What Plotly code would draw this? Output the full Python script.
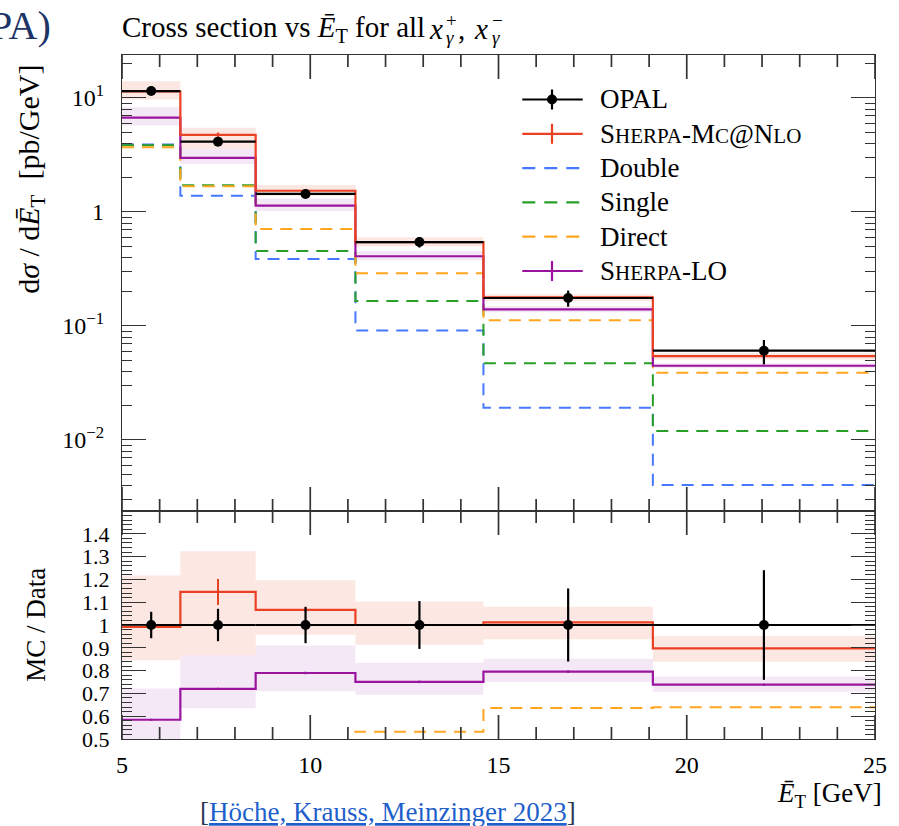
import numpy as np
import plotly.graph_objects as go

# ---- binned cross sections dσ/dĒT [pb/GeV] ----
edges = [5.0, 6.55, 8.55, 11.2, 14.6, 19.1, 25.0]

opal = [11.5, 4.14, 1.44, 0.545, 0.176, 0.0607]
opal_err = [0.667, 0.294, 0.115, 0.0572, 0.0282, 0.0146]

mcatnlo = [11.4, 4.74, 1.535, 0.545, 0.178, 0.0545]
mcatnlo_err = [0.09, 0.236, 0.012, 0.005, 0.0015, 0.0004]
mcatnlo_lo = [9.72, 3.59, 1.378, 0.498, 0.165, 0.0509]
mcatnlo_hi = [14.0, 5.48, 1.722, 0.601, 0.190, 0.0578]

sherpa_lo = [6.72, 2.98, 1.137, 0.409, 0.140, 0.0448]
sherpa_lo_err = [0.05, 0.02, 0.008, 0.003, 0.001, 0.0003]
sherpa_lo_lo = [5.75, 2.63, 1.022, 0.378, 0.132, 0.0429]
sherpa_lo_hi = [8.30, 3.59, 1.31, 0.455, 0.150, 0.0470]

double = [3.90, 1.39, 0.386, 0.0915, 0.0192, 0.00403]
single = [3.85, 1.72, 0.455, 0.166, 0.0470, 0.0120]
direct = [3.70, 1.68, 0.71, 0.290, 0.112, 0.0388]

x_ticks = [5, 10, 15, 20, 25]
x_minor = [v for v in range(5, 26) if v % 5]
log_ticks = [0.01, 0.1, 1, 10]
log_ticktext = ["10<sup>−2</sup>", "10<sup>−1</sup>", "1", "10<sup>1</sup>"]
ratio_ticks = [0.5, 0.6, 0.7, 0.8, 0.9, 1.0, 1.1, 1.2, 1.3, 1.4]
ratio_ticktext = ["0.5", "0.6", "0.7", "0.8", "0.9", "1", "1.1", "1.2", "1.3", "1.4"]

# ---- styling ----
RED = "#eb4123"
PURPLE = "#9b149f"
BLUE = "#4679ff"
GREEN = "#28a028"
ORANGE = "#ffa51e"
RED_BAND = "rgba(245,110,90,0.17)"
PURPLE_BAND = "rgba(190,110,200,0.17)"
AX = "#333333"
FONT = "Liberation Serif"

W, H = 899, 826
ML, MR, MT, MB = 122, 17, 55, 87
PW, PH = W - ML - MR, H - MT - MB
TOP_H, RATIO_H = PH * 2 / 3, PH / 3
LOG_RANGE = [-2.623, 1.377]
RATIO_RANGE = [0.5, 1.5]

def px(x):
    return (x - ML) / PW

def py(y):
    return (H - MB - y) / PH

edges_a = np.array(edges)
centers = 0.5 * (edges_a[:-1] + edges_a[1:])
half_w = 0.5 * (edges_a[1:] - edges_a[:-1])
opal_a = np.array(opal)

def step_y(vals):
    return list(vals) + [vals[-1]]

def band_poly(lo, hi):
    xs, ys = [], []
    for i in range(len(lo)):
        xs += [edges[i], edges[i + 1]]
        ys += [hi[i], hi[i]]
    for i in reversed(range(len(lo))):
        xs += [edges[i + 1], edges[i]]
        ys += [lo[i], lo[i]]
    return xs, ys

fig = go.Figure()

def add_panel(scale, xa, ya):
    # uncertainty bands
    for lo, hi, col in [(mcatnlo_lo, mcatnlo_hi, RED_BAND), (sherpa_lo_lo, sherpa_lo_hi, PURPLE_BAND)]:
        bx, by = band_poly(np.array(lo) / scale, np.array(hi) / scale)
        fig.add_trace(go.Scatter(x=bx, y=by, fill="toself", fillcolor=col, mode="none",
                                 hoverinfo="skip", showlegend=False, xaxis=xa, yaxis=ya))
    # component histograms
    for vals, col in [(double, BLUE), (single, GREEN), (direct, ORANGE)]:
        fig.add_trace(go.Scatter(x=edges, y=step_y(np.array(vals) / scale), mode="lines",
                                 line=dict(color=col, width=2, dash="12px,8px", shape="hv"),
                                 showlegend=False, xaxis=xa, yaxis=ya))
    # full predictions
    for vals, err, col in [(sherpa_lo, sherpa_lo_err, PURPLE), (mcatnlo, mcatnlo_err, RED)]:
        v = np.array(vals) / scale
        fig.add_trace(go.Scatter(x=edges, y=step_y(v), mode="lines",
                                 line=dict(color=col, width=2.2, shape="hv"),
                                 showlegend=False, xaxis=xa, yaxis=ya))
        fig.add_trace(go.Scatter(x=centers, y=v, mode="markers", marker=dict(size=1, color=col),
                                 error_y=dict(type="data", array=np.array(err) / scale,
                                              color=col, thickness=2, width=0),
                                 showlegend=False, xaxis=xa, yaxis=ya))
    # measurement
    fig.add_trace(go.Scatter(x=centers, y=opal_a / scale, mode="markers",
                             marker=dict(size=10, color="black"),
                             error_x=dict(type="data", array=half_w, color="black", thickness=2.2, width=0),
                             error_y=dict(type="data", array=np.array(opal_err) / scale,
                                          color="black", thickness=2.2, width=0),
                             showlegend=False, xaxis=xa, yaxis=ya))

add_panel(1.0, "x", "y")
add_panel(opal_a, "x2", "y2")

# ---- inward x tick marks along the top and bottom of both panels ----
def tick_trace(xa, ya, to_data, lo, hi, span_px):
    xs, ys = [], []
    for vals, tl in [(x_ticks, 24), (x_minor, 12)]:
        d = (hi - lo) * tl / span_px
        for v in vals:
            xs += [v, v, None, v, v, None]
            ys += [to_data(lo), to_data(lo + d), None, to_data(hi), to_data(hi - d), None]
    fig.add_trace(go.Scatter(x=xs, y=ys, mode="lines", line=dict(color=AX, width=1.7),
                             hoverinfo="skip", showlegend=False, xaxis=xa, yaxis=ya))

tick_trace("x", "y", lambda e: 10.0 ** e, LOG_RANGE[0], LOG_RANGE[1], TOP_H)
tick_trace("x2", "y2", lambda e: e, RATIO_RANGE[0], RATIO_RANGE[1], RATIO_H)

tickfont = dict(family=FONT, size=24, color="black")
ratio_tickfont = dict(family=FONT, size=22, color="black")

log_minor = [m * 10.0 ** d for d in range(-3, 2) for m in range(2, 10)]

fig.update_layout(
    width=W, height=H,
    margin=dict(l=ML, r=MR, t=MT, b=MB),
    plot_bgcolor="white", paper_bgcolor="white",
    font=dict(family=FONT, color="black"),
    showlegend=False,
    xaxis=dict(domain=[0, 1], anchor="y", range=[5, 25], showticklabels=False,
               tickmode="array", tickvals=x_ticks, ticks="",
               showline=True, linecolor=AX, linewidth=1.3,
               mirror=True, showgrid=False, zeroline=False),
    xaxis2=dict(domain=[0, 1], anchor="y2", range=[5, 25], showticklabels=True,
                tickfont=tickfont, ticklabelstandoff=4,
                tickmode="array", tickvals=x_ticks, ticks="",
                showline=True, linecolor=AX, linewidth=1.3,
                mirror=True, showgrid=False, zeroline=False),
    yaxis=dict(domain=[1 / 3, 1], anchor="x", type="log", range=LOG_RANGE,
               tickmode="array", tickvals=log_ticks, ticktext=log_ticktext, tickfont=tickfont,
               ticks="inside", ticklen=24, tickcolor=AX, tickwidth=1.3, ticklabelstandoff=12,
               showline=True, linecolor=AX, linewidth=1.3, mirror="ticks",
               showgrid=False, zeroline=False,
               minor=dict(tickmode="array", tickvals=log_minor, ticks="inside", ticklen=10,
                          tickcolor=AX, tickwidth=1.3, showgrid=False)),
    yaxis2=dict(domain=[0, 1 / 3], anchor="x2", range=RATIO_RANGE,
                tickmode="array", tickvals=ratio_ticks, ticktext=ratio_ticktext, tickfont=ratio_tickfont,
                ticks="inside", ticklen=24, tickcolor=AX, tickwidth=1.3, ticklabelstandoff=7,
                showline=True, linecolor=AX, linewidth=1.3, mirror="ticks",
                showgrid=False, zeroline=False,
                minor=dict(tick0=0.5, dtick=0.02, ticks="inside", ticklen=10,
                           tickcolor=AX, tickwidth=1.3, showgrid=False)),
)

# ---- legend, drawn by hand ----
SC = "font-size:21px"
legend_rows = [
    ("OPAL", "black", "solid", "point"),
    (f"S<span style='{SC}'>HERPA</span>-M<span style='{SC}'>C</span>@N<span style='{SC}'>LO</span>", RED, "solid", "bar"),
    ("Double", BLUE, "dash", None),
    ("Single", GREEN, "dash", None),
    ("Direct", ORANGE, "dash", None),
    (f"S<span style='{SC}'>HERPA</span>-LO", PURPLE, "solid", "bar"),
]
row_y0, row_dy = 99.5, 34.3
for i, (label, col, dash, mark) in enumerate(legend_rows):
    yy = row_y0 + i * row_dy
    fig.add_shape(type="line", xref="paper", yref="paper", x0=px(526), x1=px(587), y0=py(yy), y1=py(yy),
                  line=dict(color=col, width=2.2, dash="13px,9px" if dash == "dash" else "solid"))
    if mark is not None:
        fig.add_shape(type="line", xref="paper", yref="paper", x0=px(556), x1=px(556),
                      y0=py(yy - 10), y1=py(yy + 10), line=dict(color=col, width=2.2))
    if mark == "point":
        fig.add_shape(type="circle", xref="paper", yref="paper", x0=px(551), x1=px(561),
                      y0=py(yy + 5), y1=py(yy - 5), fillcolor="black", line=dict(color="black", width=0))
    fig.add_annotation(text=label, xref="paper", yref="paper", x=px(602), y=py(yy),
                       xanchor="left", yanchor="middle", showarrow=False,
                       font=dict(family=FONT, size=27, color="black"))

# ---- title, set piece by piece so the scripts on x stack ----
TF = dict(family=FONT, size=29, color="black")
SF = dict(family=FONT, size=19, color="black")
title_parts = [
    ("Cross section vs <i>Ē</i><sub>T</sub> for all", 121, 29, TF),
    ("<i>x</i>", 431, 29, TF),
    ("+", 448, 20, SF),
    ("<i>γ</i>", 448, 38, SF),
    (",", 460, 29, TF),
    ("<i>x</i>", 476, 29, TF),
    ("−", 494, 20, SF),
    ("<i>γ</i>", 494, 38, SF),
]
for txt, xl, yc, f in title_parts:
    fig.add_annotation(text=txt, xref="paper", yref="paper", x=px(xl), y=py(yc),
                       xanchor="left", yanchor="middle", showarrow=False, font=f, borderpad=0)

fig.add_annotation(text="PA)", xref="paper", yref="paper", x=px(52), y=py(25), xanchor="right",
                   yanchor="middle", showarrow=False, font=dict(family=FONT, size=40, color="#1c3466"))
fig.add_annotation(text="d<i>σ</i> / d<i>Ē</i><sub>T</sub>  [pb/GeV]", xref="paper", yref="paper",
                   x=px(30), y=py(179), xanchor="center", yanchor="middle", textangle=-90,
                   showarrow=False, font=dict(family=FONT, size=30, color="black"))
fig.add_annotation(text="MC / Data", xref="paper", yref="paper",
                   x=px(35), y=py(625), xanchor="center", yanchor="middle", textangle=-90,
                   showarrow=False, font=dict(family=FONT, size=27, color="black"))
fig.add_annotation(text="<i>Ē</i><sub>T</sub> [GeV]", xref="paper", yref="paper",
                   x=px(891), y=py(795), xanchor="right", yanchor="middle",
                   showarrow=False, font=dict(family=FONT, size=27, color="black"))
fig.add_annotation(text="<span style='color:#2b3a55'>[</span><u>Höche, Krauss, Meinzinger 2023</u><span style='color:#2b3a55'>]</span>",
                   xref="paper", yref="paper", x=px(390), y=py(812), xanchor="center", yanchor="middle",
                   showarrow=False, font=dict(family=FONT, size=27, color="#1f5fcc"))

fig.write_html("out.html")
